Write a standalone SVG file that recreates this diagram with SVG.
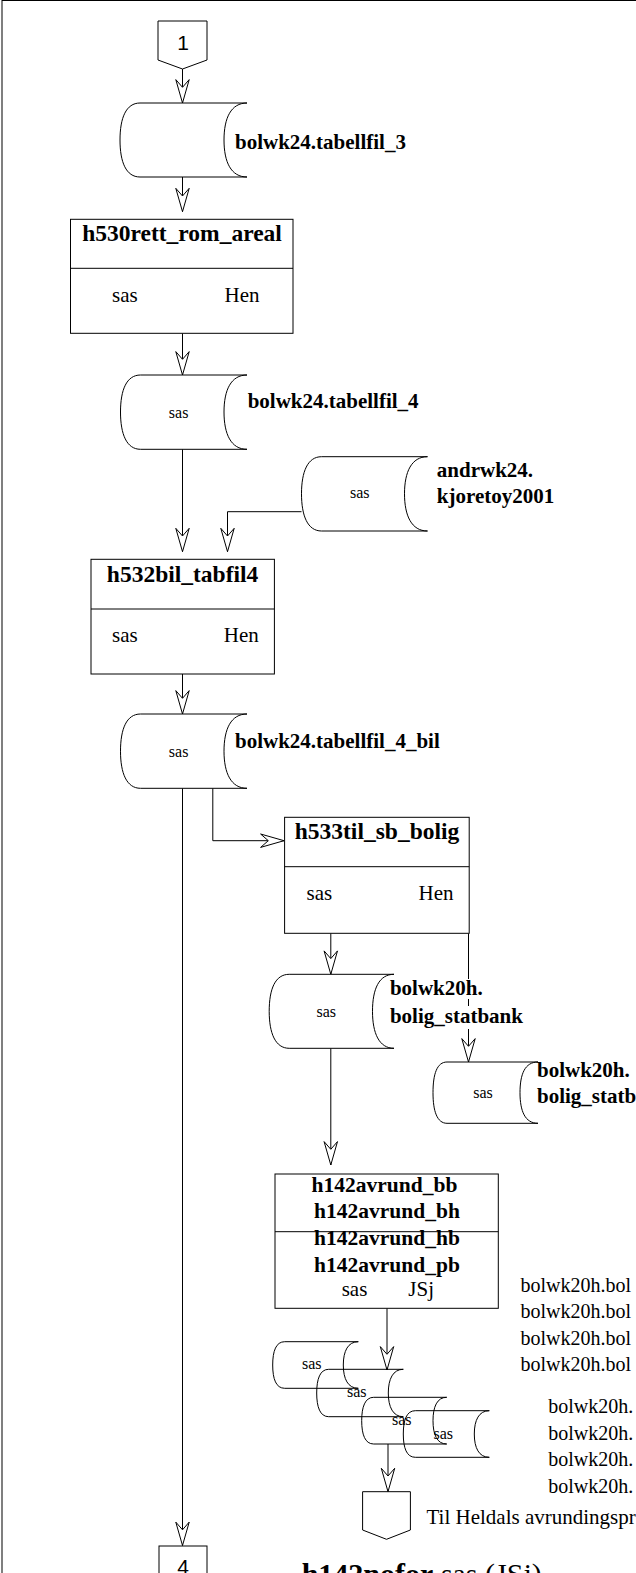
<svg xmlns="http://www.w3.org/2000/svg" width="636" height="1573" viewBox="0 0 636 1573">
<defs>
<style>
.ln{fill:none;stroke:#000;stroke-width:1}
.bx{fill:#fff;stroke:#000;stroke-width:1}
.cy{fill:#fff;stroke:#000;stroke-width:1}
.cs{fill:none;stroke:#000;stroke-width:1}
.tt{font-family:"Liberation Serif",serif;font-weight:bold;font-size:23.5px;text-anchor:middle}
.t4{font-family:"Liberation Serif",serif;font-weight:bold;font-size:21.5px;text-anchor:middle}
.lb{font-family:"Liberation Serif",serif;font-weight:bold;font-size:21px}
.rg{font-family:"Liberation Serif",serif;font-size:21px}
.r20{font-family:"Liberation Serif",serif;font-size:20px}
.sm{font-family:"Liberation Serif",serif;font-size:16px;text-anchor:middle}
.cn{font-family:"Liberation Sans",sans-serif;font-size:21px;text-anchor:middle}
.ft{font-family:"Liberation Serif",serif;font-size:30px}
.bg{fill:#fff}
</style>
<marker id="arr" markerUnits="userSpaceOnUse" markerWidth="26" markerHeight="16" refX="24" refY="8" orient="auto" overflow="visible">
<path d="M0.6,1.3 L24,8 L0.6,14.7 L8.3,8 Z" fill="#fff" stroke="#000" stroke-width="1"/>
</marker>
</defs>
<rect x="2" y="0.5" width="700" height="1700" fill="none" stroke="#000" stroke-width="1"/>
<g id="connectors">
<path class="ln" d="M182.5,69 V103" marker-end="url(#arr)"/>
<path class="ln" d="M182.5,177 V211.7" marker-end="url(#arr)"/>
<path class="ln" d="M182.5,333.3 V375" marker-end="url(#arr)"/>
<path class="ln" d="M182.5,449.3 V551.7" marker-end="url(#arr)"/>
<path class="ln" d="M301.5,511.7 H227.5 V551.7" marker-end="url(#arr)"/>
<path class="ln" d="M182.5,674 V714" marker-end="url(#arr)"/>
<path class="ln" d="M182.5,788.3 V1545.5" marker-end="url(#arr)"/>
<path class="ln" d="M212.8,788.3 V840.7 H284" marker-end="url(#arr)"/>
<path class="ln" d="M330.8,933.3 V974.3" marker-end="url(#arr)"/>
<path class="ln" d="M468.5,933.3 V1062" marker-end="url(#arr)"/>
<path class="ln" d="M330.8,1048.3 V1165" marker-end="url(#arr)"/>
<path class="ln" d="M387,1308.3 V1370" marker-end="url(#arr)"/>
<path class="ln" d="M388,1444 V1491.7" marker-end="url(#arr)"/>
</g>
<g id="conn1">
<path class="bx" d="M158,21 H207 V60 L182.5,69 L158,60 Z"/>
<text class="cn" x="183" y="50">1</text>
</g>
<g id="cyl1">
<path class="cy" d="M140,103 L247,103 C231,103 224,118 224,140 C224,162 231,177 247,177 L140,177 C126,177 120,162 120,140 C120,118 126,103 140,103 Z"/>
<text class="lb" x="235" y="149">bolwk24.tabellfil_3</text>
</g>
<g id="box1">
<rect class="bx" x="70.5" y="219.3" width="222.5" height="114"/>
<line class="ln" x1="70.5" y1="268.3" x2="293" y2="268.3"/>
<text class="tt" x="182" y="241.3">h530rett_rom_areal</text>
<text class="rg" x="112" y="301.7">sas</text>
<text class="rg" x="224.5" y="301.7">Hen</text>
</g>
<g id="cyl2">
<path class="cy" d="M140.5,375 L247,375 C231,375 224,390 224,412 C224,434 231,449.3 247,449.3 L140.5,449.3 C126.5,449.3 120.5,434 120.5,412 C120.5,390 126.5,375 140.5,375 Z"/>
<text class="sm" x="178.6" y="418">sas</text>
<text class="lb" x="247.7" y="408.3">bolwk24.tabellfil_4</text>
</g>
<g id="cyl3">
<path class="cy" d="M321.5,456.7 L427.5,456.7 C411.5,456.7 404.5,472 404.5,493.8 C404.5,515.6 411.5,531 427.5,531 L321.5,531 C307.5,531 301.5,515.6 301.5,493.8 C301.5,472 307.5,456.7 321.5,456.7 Z"/>
<text class="sm" x="359.8" y="498.3">sas</text>
<text class="lb" x="436.8" y="476.7">andrwk24.</text>
<text class="lb" x="436.8" y="503.3">kjoretoy2001</text>
</g>
<g id="box2">
<rect class="bx" x="91" y="559.3" width="183.4" height="114.7"/>
<line class="ln" x1="91" y1="609" x2="274.4" y2="609"/>
<text class="tt" x="182.6" y="581.7">h532bil_tabfil4</text>
<text class="rg" x="112" y="641.7">sas</text>
<text class="rg" x="223.8" y="641.7">Hen</text>
</g>
<g id="cyl4">
<path class="cy" d="M140.5,714 L247,714 C231,714 224,729 224,751.2 C224,773 231,788.3 247,788.3 L140.5,788.3 C126.5,788.3 120.5,773 120.5,751.2 C120.5,729 126.5,714 140.5,714 Z"/>
<text class="sm" x="178.6" y="756.7">sas</text>
<text class="lb" x="235" y="748.3">bolwk24.tabellfil_4_bil</text>
</g>
<g id="box3">
<rect class="bx" x="284.6" y="817.3" width="184.6" height="116"/>
<line class="ln" x1="284.6" y1="866.7" x2="469.2" y2="866.7"/>
<text class="tt" x="377" y="839.3">h533til_sb_bolig</text>
<text class="rg" x="306.5" y="900">sas</text>
<text class="rg" x="418.6" y="900">Hen</text>
</g>
<g id="cyl5">
<path class="cy" d="M289.2,974.3 L394,974.3 C379,974.3 372.5,989 372.5,1011.3 C372.5,1033 379,1048.3 394,1048.3 L289.2,1048.3 C275.2,1048.3 269.2,1033 269.2,1011.3 C269.2,989 275.2,974.3 289.2,974.3 Z"/>
<text class="sm" x="326.3" y="1016.7">sas</text>
<rect class="bg" x="389" y="979" width="94" height="20"/>
<rect class="bg" x="389" y="1006" width="135" height="23"/>
<text class="lb" x="389.9" y="995">bolwk20h.</text>
<text class="lb" x="389.9" y="1022.7">bolig_statbank</text>
</g>
<g id="cyl6">
<path class="cy" d="M447,1062 L538,1062 C525,1062 520,1074 520,1092.7 C520,1111 525,1123.3 538,1123.3 L447,1123.3 C437,1123.3 433,1111 433,1092.7 C433,1074 437,1062 447,1062 Z"/>
<text class="sm" x="483" y="1098">sas</text>
<text class="lb" x="537" y="1076.7">bolwk20h.</text>
<text class="lb" x="537" y="1103.3">bolig_statbank</text>
</g>
<g id="box4">
<rect class="bx" x="275" y="1174" width="223.3" height="134.3"/>
<line class="ln" x1="275" y1="1231.7" x2="498.3" y2="1231.7"/>
<text class="t4" x="384.5" y="1191.7">h142avrund_bb</text>
<text class="t4" x="387" y="1218.3">h142avrund_bh</text>
<text class="t4" x="387" y="1245">h142avrund_hb</text>
<text class="t4" x="387" y="1271.7">h142avrund_pb</text>
<text class="rg" x="341.7" y="1296">sas</text>
<text class="rg" x="408.3" y="1296">JSj</text>
</g>
<g id="stack">
<path class="cs" d="M284.7,1341.7 L358.3,1341.7 C348,1341.7 343.3,1351 343.3,1365 C343.3,1379 348,1388.3 358.3,1388.3 L284.7,1388.3 C276,1388.3 272.7,1379 272.7,1365 C272.7,1351 276,1341.7 284.7,1341.7 Z"/>
<text class="sm" x="311.7" y="1369.3">sas</text>
<path class="cs" d="M328.7,1369.3 L403.3,1369.3 C393,1369.3 388.3,1379 388.3,1393 C388.3,1407 393,1416.7 403.3,1416.7 L328.7,1416.7 C320,1416.7 316.7,1407 316.7,1393 C316.7,1379 320,1369.3 328.7,1369.3 Z"/>
<text class="sm" x="356.7" y="1397.3">sas</text>
<path class="cs" d="M373.7,1397.3 L446.7,1397.3 C437,1397.3 433,1407 433,1420.7 C433,1434.5 437,1444 446.7,1444 L373.7,1444 C365,1444 361.7,1434.5 361.7,1420.7 C361.7,1407 365,1397.3 373.7,1397.3 Z"/>
<text class="sm" x="401.7" y="1425">sas</text>
<path class="cs" d="M415.3,1410.7 L489.3,1410.7 C479,1410.7 474.3,1420 474.3,1434 C474.3,1448 479,1457.3 489.3,1457.3 L415.3,1457.3 C406.6,1457.3 403.3,1448 403.3,1434 C403.3,1420 406.6,1410.7 415.3,1410.7 Z"/>
<text class="sm" x="443.3" y="1439.3">sas</text>
</g>
<g id="outputs">
<text class="r20" x="520.5" y="1291.5">bolwk20h.bol</text>
<text class="r20" x="520.5" y="1318">bolwk20h.bol</text>
<text class="r20" x="520.5" y="1344.5">bolwk20h.bol</text>
<text class="r20" x="520.5" y="1371">bolwk20h.bol</text>
<text class="r20" x="548.3" y="1413">bolwk20h.</text>
<text class="r20" x="548.3" y="1439.5">bolwk20h.</text>
<text class="r20" x="548.3" y="1466">bolwk20h.</text>
<text class="r20" x="548.3" y="1492.5">bolwk20h.</text>
</g>
<g id="exit">
<path class="bx" d="M362.6,1491.7 H410.4 V1530 L386.5,1539.3 L362.6,1530 Z"/>
<text class="rg" x="426.5" y="1523.5">Til Heldals avrundingsprogram</text>
</g>
<g id="conn4">
<rect class="bx" x="159" y="1546" width="48" height="40"/>
<text class="cn" x="183" y="1574">4</text>
</g>
<g id="footer">
<text class="ft" x="301.7" y="1584"><tspan font-weight="bold">h142nofor</tspan> sas (JSj)</text>
</g>
</svg>
